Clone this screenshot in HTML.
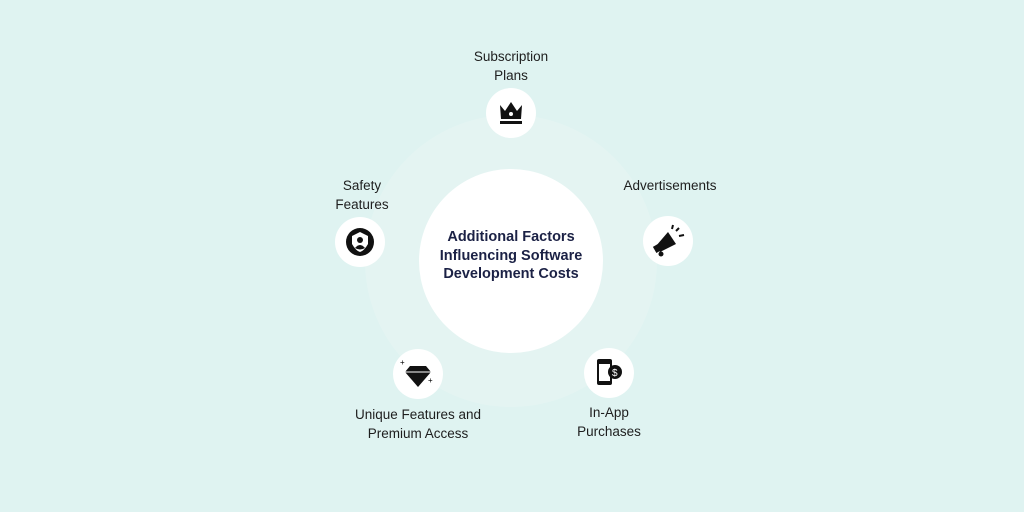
<!DOCTYPE html>
<html><head><style>
body{margin:0;width:1024px;height:512px;background:#dff3f1;position:relative;overflow:hidden;font-family:"Liberation Sans",sans-serif}
.t{position:absolute;text-align:center;font-size:13.5px;color:#1e1e1e;line-height:19px;white-space:nowrap}
</style></head><body>
<svg width="1024" height="512" style="position:absolute;left:0;top:0">
<circle cx="511" cy="261" r="146" fill="#e4f4f2"/>
<circle cx="511" cy="261" r="92" fill="#fff"/>
<g fill="#fff">
<circle cx="511" cy="113" r="25"/>
<circle cx="668" cy="241" r="25"/>
<circle cx="360" cy="242" r="25"/>
<circle cx="418" cy="374" r="25"/>
<circle cx="609" cy="373" r="25"/>
</g>
<path d="M500 105 L505 111 L511 102 L517 111 L522 105 L521 119 L501 119Z" fill="#111"/>
<circle cx="511" cy="114" r="2" fill="#fff"/>
<rect x="500" y="121" width="22" height="3" fill="#111"/>
<circle cx="360" cy="242" r="14" fill="#111"/>
<path d="M352 236 L360 232 L368 236 L368 244 Q364 251 360 252 Q356 251 352 244Z" fill="#fff"/>
<circle cx="360" cy="240" r="3" fill="#111"/><path d="M355 248 Q360 242 365 248 Q360 251 355 248Z" fill="#111"/>
<path d="M656 246 L668 232 L676 244 L660 252Z" fill="#111"/>
<rect x="654" y="245" width="6" height="7" transform="rotate(-30 657 248)" fill="#111"/>
<circle cx="661" cy="254" r="2.5" fill="#111"/>
<path d="M676 231 L679 228 M679 236 L684 235 M672 229 L673 225" stroke="#111" stroke-width="2"/>
<path d="M410 366 L426 366 L431 372 L418 387 L405 372Z" fill="#111"/>
<path d="M405 372 L431 372" stroke="#fff" stroke-width="1"/>
<text x="400" y="365" font-size="8">+</text><text x="428" y="383" font-size="8">+</text>
<rect x="597" y="359" width="15" height="26" rx="2" fill="#111"/>
<rect x="599" y="364" width="11" height="17" fill="#fff"/>
<circle cx="615" cy="372" r="7" fill="#111"/>
<text x="612" y="376" font-size="10" fill="#fff">$</text>
</svg>
<div class="t" style="left:411px;top:228px;width:200px;font-weight:bold;font-size:14.5px;line-height:18.5px;color:#1b2145">Additional Factors<br>Influencing Software<br>Development Costs</div>
<div class="t" style="left:431px;top:47px;width:160px">Subscription<br>Plans</div>
<div class="t" style="left:590px;top:176px;width:160px">Advertisements</div>
<div class="t" style="left:282px;top:176px;width:160px">Safety<br>Features</div>
<div class="t" style="left:318px;top:405px;width:200px">Unique Features and<br>Premium Access</div>
<div class="t" style="left:529px;top:403px;width:160px">In-App<br>Purchases</div>
</body></html>
